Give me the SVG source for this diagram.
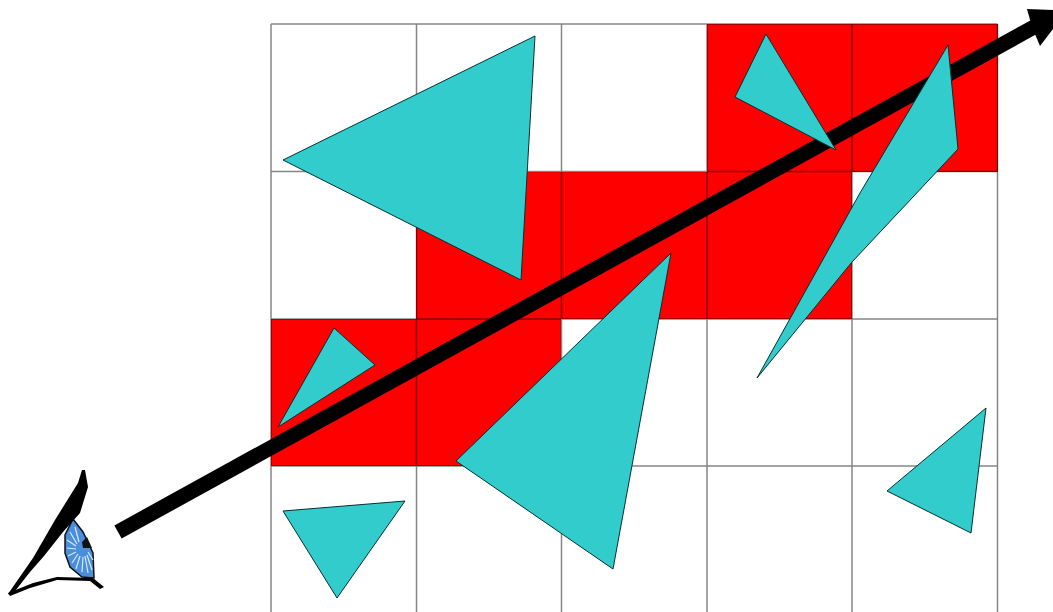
<svg xmlns="http://www.w3.org/2000/svg" width="1053" height="612" viewBox="0 0 1053 612">
<style>
.c{fill:#ff0000}
.g{stroke:#000;stroke-opacity:.48;stroke-width:1.5;fill:none}
.t{fill:#33cccc;stroke:#063030;stroke-width:1}
.k{fill:#000}
</style>
<rect width="1053" height="612" fill="#fff"/>
<g id="cells">
<rect class="c" x="707" y="24" width="291" height="148"/>
<rect class="c" x="416" y="172" width="436" height="147"/>
<rect class="c" x="271" y="319" width="290" height="147"/>
</g>
<g id="grid">
<path class="g" d="M271 24V612M416.500 24V612M561.500 24V612M707 24V612M852 24V612M997.500 24V612M271 24H997.500M271 171.500H997.500M271 319H997.500M271 466H997.500"/>
</g>
<g id="connectors">
<path d="M118 532L1034 27" stroke="#000" stroke-width="15" fill="none"/>
<polygon class="k" points="1027,9 1053,10 1053,29 1040,46 1032,27"/>
</g>
<g id="triangles">
<polygon id="t1" class="t" points="535,36 283,160 521,280"/>
<polygon id="t2" class="t" points="766,34 735,97 836,150"/>
<polygon id="t3" class="t" points="948,45 958,149 852,262 757,378 860,193"/>
<polygon id="t4" class="t" points="671,253 456,461 613,569"/>
<polygon id="t5" class="t" points="334,328 375,365 278,427"/>
<polygon id="t6" class="t" points="283,511 405,501 337,598"/>
<polygon id="t7" class="t" points="986,408 887,491 971,533"/>
</g>
<g id="eye">
<path d="M73 519L83 532L93 553L94 578L82 577L70 567L65 553L65 535Z" fill="#4a8fdc" stroke="#111" stroke-width="1.500"/>
<path d="M87 537L92 548L83 548L82 542Z" fill="#111"/>
<g stroke="#dbe9fb" stroke-width="1.200" fill="none">
<path d="M79 542L75 527M77 544L70 532M76 546L67 540M76 549L67 548M76 552L68 556M78 554L72 563M80 556L76 569M83 557L82 572M85 556L88 573M87 555L92 570M88 552L93 560"/>
</g>
<path d="M8 594L33 558L55 520L78 483L82 470L85 470L88 487L80 513L63 532L44 556L30 572L12 595Z" class="k"/>
<path d="M8 593L33 583L57 577L93 578L104 587L100 589L90 581L57 580L30 588L10 596Z" class="k"/>
</g>
</svg>
